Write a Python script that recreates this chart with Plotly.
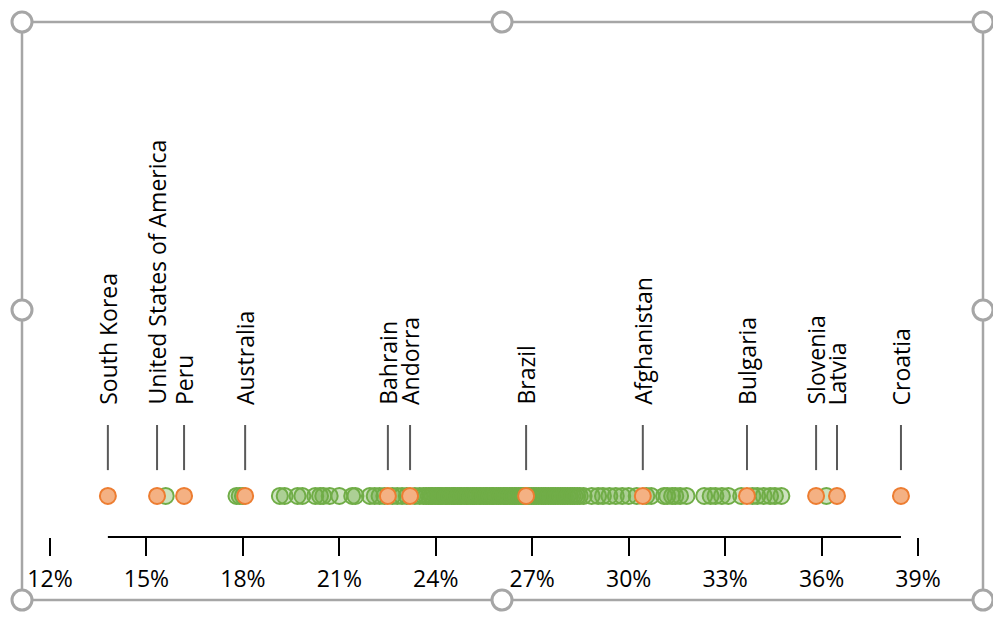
import plotly.graph_objects as go

# highlighted countries (share, %)
highlight_names = ["South Korea", "United States of America", "Peru", "Australia",
                   "Bahrain", "Andorra", "Brazil", "Afghanistan", "Bulgaria",
                   "Slovenia", "Latvia", "Croatia"]
highlight_values = [13.8, 15.33, 16.17, 18.07, 22.51, 23.2, 26.81, 30.44, 33.68,
                    35.83, 36.48, 38.47]

# all other countries (share, %)
other_values = [
    15.6, 17.8, 17.9, 18.0,
    19.15, 19.3, 19.7, 19.85, 20.25, 20.4, 20.5, 20.7, 21.0, 21.4, 21.5,
    21.95, 22.1, 22.25, 22.4, 22.65, 22.8, 22.95, 23.1, 23.35, 23.5,
    23.62, 23.7, 23.78, 23.85, 23.9, 23.98, 24.05, 24.1, 24.16, 24.22, 24.3,
    24.35, 24.42, 24.5, 24.55, 24.6, 24.68, 24.75, 24.8, 24.88, 24.95, 25.0,
    25.08, 25.15, 25.2, 25.27, 25.35, 25.4, 25.48, 25.55, 25.6, 25.68, 25.75,
    25.8, 25.88, 25.95, 26.02, 26.1, 26.15, 26.22, 26.3, 26.38, 26.45, 26.5,
    26.58, 26.65, 26.72, 26.8, 26.9, 26.98, 27.05, 27.12, 27.2, 27.28, 27.35,
    27.42, 27.5, 27.58, 27.65, 27.72, 27.8, 27.88, 27.95, 28.02, 28.1, 28.18,
    28.25, 28.32, 28.4, 28.48,
    28.6, 28.85, 29.05, 29.2, 29.4, 29.6, 29.8, 30.0, 30.25, 30.55, 30.7,
    31.1, 31.2, 31.35, 31.45, 31.6, 31.8, 32.35, 32.55, 32.7, 32.9, 33.1,
    33.5, 33.85, 34.0, 34.2, 34.4, 34.55, 34.75, 36.15,
]

tick_values = [12, 15, 18, 21, 24, 27, 30, 33, 36, 39]
tick_labels = [f"{v}%" for v in tick_values]

# the page body has an 8px margin, so the figure is drawn 8px in from the window edge
OFF = 8
W, H = 1001 - 2 * OFF, 623 - 2 * OFF
ML, MR, MT, MB = 42, 75, 12, 78
plot_w = W - ML - MR
plot_h = H - MT - MB
Y_RANGE = [-1, 11.6]


# window pixel -> paper coords
def px_x(px):
    return (px - OFF - ML) / plot_w


def px_y(py):
    return (H - MB - (py - OFF)) / plot_h


FONT = "Open Sans"

fig = go.Figure()

fig.add_trace(go.Scatter(
    x=other_values, y=[0] * len(other_values), mode="markers",
    marker=dict(size=16, color="rgba(112,173,71,0.35)",
                line=dict(color="#70AD47", width=2)),
    hoverinfo="x", showlegend=False))

fig.add_trace(go.Scatter(
    x=highlight_values, y=[0] * len(highlight_values), mode="markers",
    text=highlight_names,
    marker=dict(size=16, color="#F4B183",
                line=dict(color="#ED7D31", width=2)),
    hoverinfo="text+x", showlegend=False))

# leader lines and labels
for name, v in zip(highlight_names, highlight_values):
    fig.add_shape(type="line", xref="x", yref="y", x0=v, x1=v, y0=0.63, y1=1.73,
                  line=dict(color="#595959", width=2))
    fig.add_annotation(x=v, y=2.17, xref="x", yref="y", text=name, showarrow=False,
                       textangle=-90, xanchor="center", yanchor="bottom",
                       font=dict(family=FONT, size=23, color="black"))

# axis line only across the data range
fig.add_shape(type="line", xref="x", yref="paper",
              x0=min(highlight_values + other_values),
              x1=max(highlight_values + other_values), y0=0, y1=0,
              line=dict(color="black", width=2))

# selection frame with handles
frame_x = [22, 502, 983]
frame_y = [22, 310, 600]
fig.add_shape(type="rect", xref="paper", yref="paper",
              x0=px_x(22), x1=px_x(983), y0=px_y(600), y1=px_y(22),
              line=dict(color="#A6A6A6", width=2.5), layer="below")
for hx in frame_x:
    for hy in frame_y:
        if hx == 502 and hy == 310:
            continue
        fig.add_shape(type="circle", xref="paper", yref="paper",
                      x0=px_x(hx - 10), x1=px_x(hx + 10),
                      y0=px_y(hy + 10), y1=px_y(hy - 10),
                      fillcolor="white", line=dict(color="#A6A6A6", width=3))

fig.update_xaxes(range=[12, 39], tickvals=tick_values, ticktext=tick_labels,
                 ticks="outside", ticklen=18, tickwidth=2, tickcolor="black",
                 ticklabelstandoff=3,
                 showgrid=False, zeroline=False, showline=False,
                 tickfont=dict(family=FONT, size=23, color="black"))
fig.update_yaxes(range=Y_RANGE, visible=False)

fig.update_layout(width=W, height=H, margin=dict(l=ML, r=MR, t=MT, b=MB),
                  plot_bgcolor="white", paper_bgcolor="white")

fig.write_html("out.html")
